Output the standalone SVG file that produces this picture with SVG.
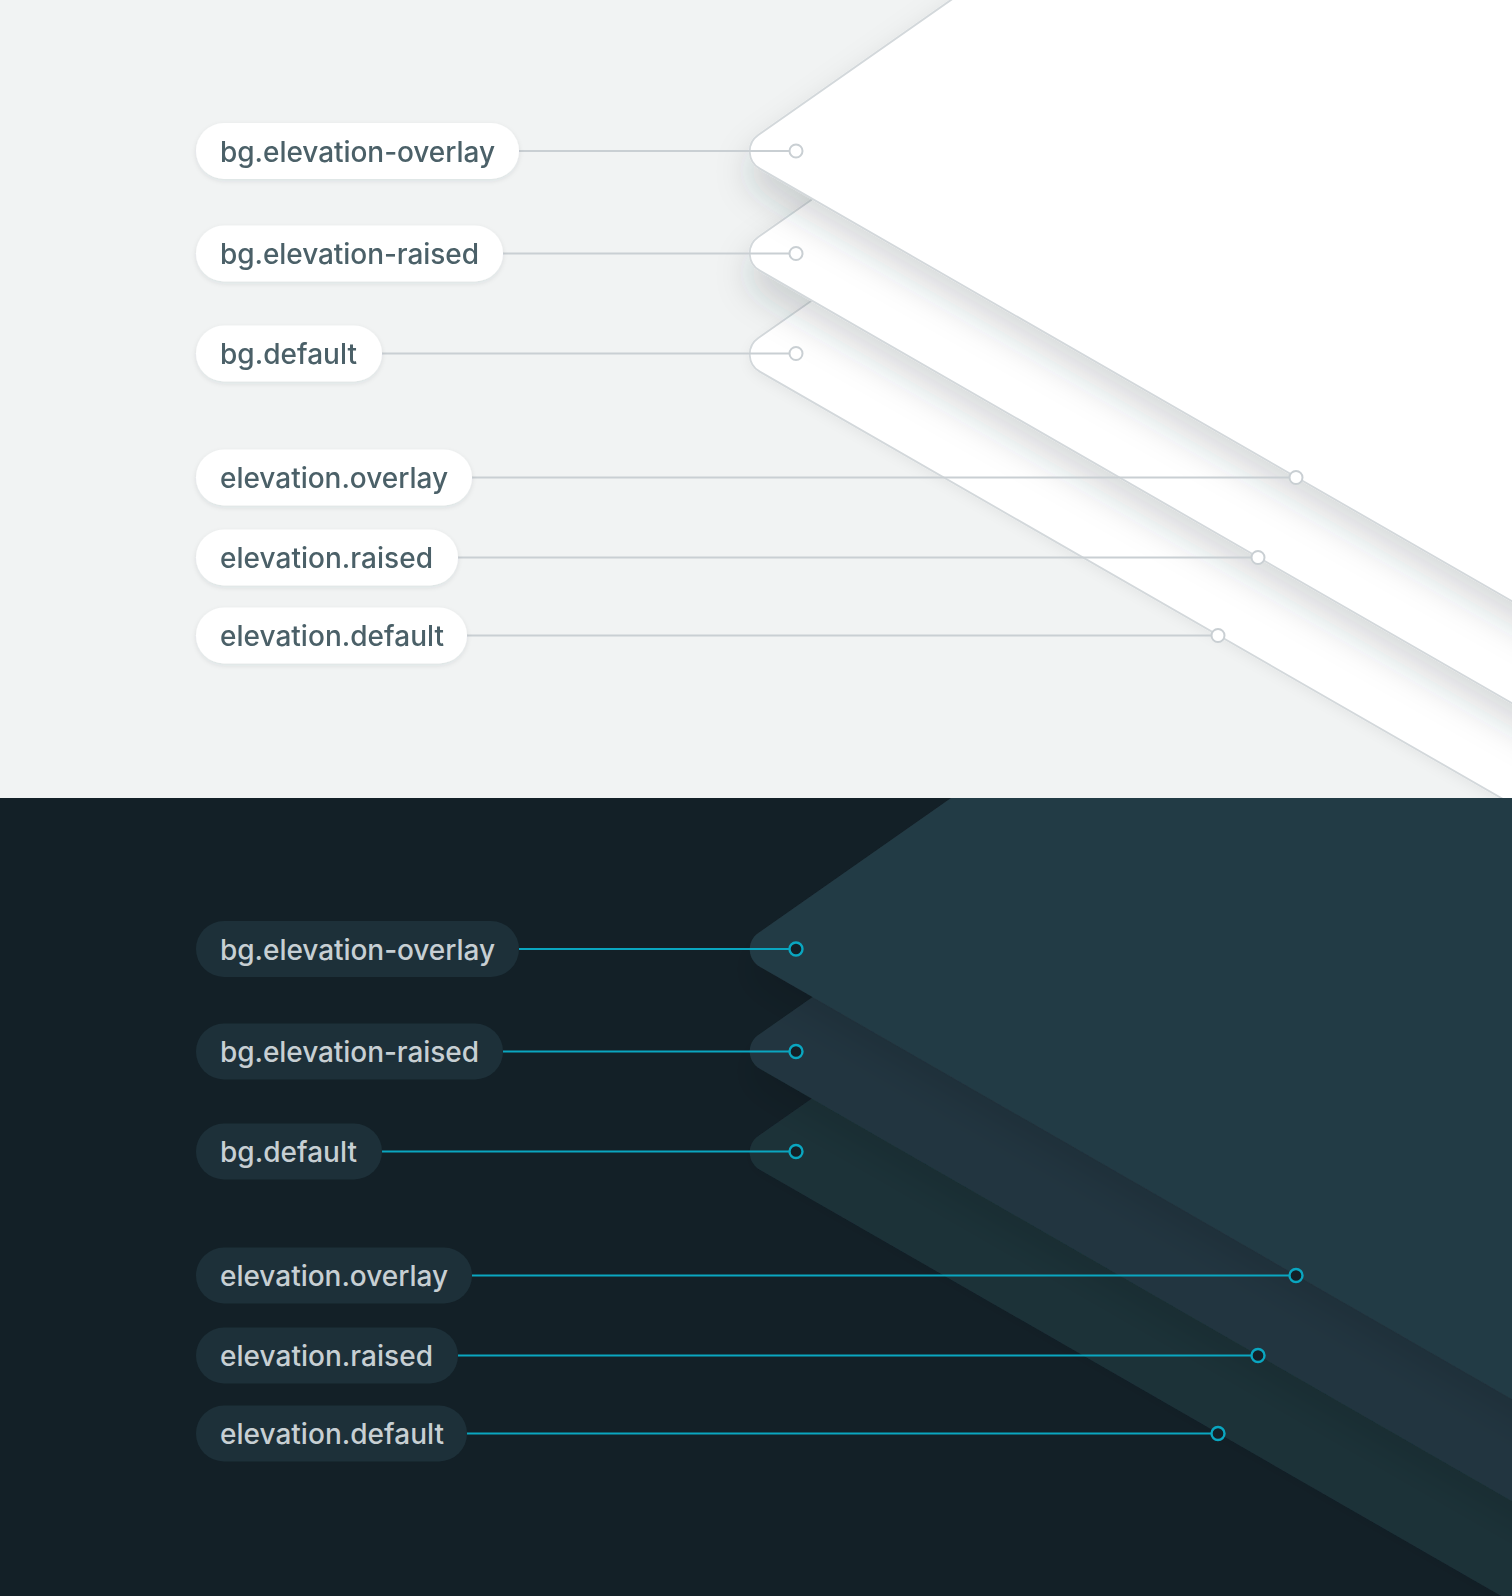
<svg xmlns="http://www.w3.org/2000/svg" xmlns:xlink="http://www.w3.org/1999/xlink" width="1512" height="1596" viewBox="0 0 1512 1596">
  <defs>
    <style>
      .lbl { font-family: Inter, "Liberation Sans", sans-serif; font-size: 28px; font-weight: 500; }
      .light .pill { fill: #ffffff; }
      .light .lbl { fill: #4b6168; }
      .dark .pill { fill: #1d3039; }
      .dark .lbl { fill: #c7cfd3; }
      .conn-l { stroke: #c9cfd3; stroke-width: 2; fill: none; }
      .conn-d { stroke: #0aa6c0; stroke-width: 2; fill: none; }
      .pl-l { fill: #ffffff; stroke: #d3d8db; stroke-width: 1.8; }
      .d0 { fill: #243a44; }
      .d1 { fill: #21363f; }
      .d2 { fill: #1d3139; }
    </style>
    <path id="plane" d="M 1600 651.8 L 759.8 168.65 A 20 20 0 0 1 758.3 134.9 L 1022.4 -50 L 1600 -50 Z"/>
    <clipPath id="clipTop"><rect x="0" y="0" width="1512" height="798"/></clipPath>
    <clipPath id="clipBot"><rect x="0" y="0" width="1512" height="798"/></clipPath>
    <filter id="shL" x="-10%" y="-15%" width="125%" height="135%">
      <feGaussianBlur in="SourceAlpha" stdDeviation="17"/>
      <feOffset dy="20" result="b"/>
      <feFlood flood-color="#2a3a40" flood-opacity="0.19"/>
      <feComposite in2="b" operator="in"/>
      <feMerge><feMergeNode/><feMergeNode in="SourceGraphic"/></feMerge>
    </filter>
    <filter id="shL2" x="-10%" y="-15%" width="125%" height="135%">
      <feGaussianBlur in="SourceAlpha" stdDeviation="6"/>
      <feOffset dy="4" result="b"/>
      <feFlood flood-color="#2a3a40" flood-opacity="0.05"/>
      <feComposite in2="b" operator="in"/>
      <feMerge><feMergeNode/><feMergeNode in="SourceGraphic"/></feMerge>
    </filter>
    <filter id="shD" x="-10%" y="-15%" width="125%" height="135%">
      <feGaussianBlur in="SourceAlpha" stdDeviation="16"/>
      <feOffset dy="20" result="b"/>
      <feFlood flood-color="#000000" flood-opacity="0.10"/>
      <feComposite in2="b" operator="in"/>
      <feMerge><feMergeNode/><feMergeNode in="SourceGraphic"/></feMerge>
    </filter>
    <filter id="shD2" x="-10%" y="-15%" width="125%" height="135%">
      <feGaussianBlur in="SourceAlpha" stdDeviation="6"/>
      <feOffset dy="4" result="b"/>
      <feFlood flood-color="#000000" flood-opacity="0.05"/>
      <feComposite in2="b" operator="in"/>
      <feMerge><feMergeNode/><feMergeNode in="SourceGraphic"/></feMerge>
    </filter>
    <filter id="pillSh" x="-10%" y="-30%" width="120%" height="170%">
      <feGaussianBlur in="SourceAlpha" stdDeviation="2.5"/>
      <feOffset dy="2" result="b"/>
      <feFlood flood-color="#2a3a40" flood-opacity="0.10"/>
      <feComposite in2="b" operator="in"/>
      <feMerge><feMergeNode/><feMergeNode in="SourceGraphic"/></feMerge>
    </filter>
    <marker id="dotL" markerUnits="userSpaceOnUse" markerWidth="20" markerHeight="20" refX="10" refY="10" orient="auto">
      <circle cx="10" cy="10" r="6.5" fill="#ffffff" stroke="#c9cfd3" stroke-width="2"/>
    </marker>
    <marker id="dotD" markerUnits="userSpaceOnUse" markerWidth="20" markerHeight="20" refX="10" refY="10" orient="auto">
      <circle cx="10" cy="10" r="6.5" fill="#132027" stroke="#0aa6c0" stroke-width="2.4"/>
    </marker>
  </defs>

  <!-- LIGHT PANEL -->
  <g id="light-panel" class="light" clip-path="url(#clipTop)">
    <rect x="0" y="0" width="1512" height="798" fill="#f1f3f3"/>
    <g id="light-planes">
      <use xlink:href="#plane" href="#plane" y="203" class="pl-l" filter="url(#shL2)"/>
      <use xlink:href="#plane" href="#plane" y="102" class="pl-l" filter="url(#shL)"/>
      <use xlink:href="#plane" href="#plane" y="0" class="pl-l" filter="url(#shL)"/>
    </g>
    <g id="light-connectors">
      <line class="conn-l" x1="519" y1="151" x2="796" y2="151" marker-end="url(#dotL)"/>
      <line class="conn-l" x1="503" y1="253.5" x2="796" y2="253.5" marker-end="url(#dotL)"/>
      <line class="conn-l" x1="382" y1="353.5" x2="796" y2="353.5" marker-end="url(#dotL)"/>
      <line class="conn-l" x1="472" y1="477.5" x2="1296" y2="477.5" marker-end="url(#dotL)"/>
      <line class="conn-l" x1="458" y1="557.5" x2="1258" y2="557.5" marker-end="url(#dotL)"/>
      <line class="conn-l" x1="467" y1="635.5" x2="1218" y2="635.5" marker-end="url(#dotL)"/>
    </g>
    <g id="light-bg-elevation-overlay" filter="url(#pillSh)">
      <rect class="pill" x="196" y="123" width="323" height="56" rx="28"/>
      <text class="lbl" x="220" y="161.5" textLength="275" lengthAdjust="spacing">bg.elevation-overlay</text>
    </g>
    <g id="light-bg-elevation-raised" filter="url(#pillSh)">
      <rect class="pill" x="196" y="225.5" width="307" height="56" rx="28"/>
      <text class="lbl" x="220" y="264" textLength="259" lengthAdjust="spacing">bg.elevation-raised</text>
    </g>
    <g id="light-bg-default" filter="url(#pillSh)">
      <rect class="pill" x="196" y="325.5" width="186" height="56" rx="28"/>
      <text class="lbl" x="220" y="364" textLength="137" lengthAdjust="spacing">bg.default</text>
    </g>
    <g id="light-elevation-overlay" filter="url(#pillSh)">
      <rect class="pill" x="196" y="449.5" width="276" height="56" rx="28"/>
      <text class="lbl" x="220" y="488" textLength="228" lengthAdjust="spacing">elevation.overlay</text>
    </g>
    <g id="light-elevation-raised" filter="url(#pillSh)">
      <rect class="pill" x="196" y="529.5" width="262" height="56" rx="28"/>
      <text class="lbl" x="220" y="568" textLength="213" lengthAdjust="spacing">elevation.raised</text>
    </g>
    <g id="light-elevation-default" filter="url(#pillSh)">
      <rect class="pill" x="196" y="607.5" width="271" height="56" rx="28"/>
      <text class="lbl" x="220" y="646" textLength="224" lengthAdjust="spacing">elevation.default</text>
    </g>
  </g>

  <!-- DARK PANEL -->
  <g id="dark-panel" class="dark" transform="translate(0,798)">
    <g clip-path="url(#clipBot)">
      <rect x="0" y="0" width="1512" height="798" fill="#132027"/>
      <g id="dark-planes">
        <use xlink:href="#plane" href="#plane" y="203" class="d2" filter="url(#shD2)"/>
        <use xlink:href="#plane" href="#plane" y="102" class="d1" filter="url(#shD)"/>
        <use xlink:href="#plane" href="#plane" y="0" class="d0" filter="url(#shD)"/>
      </g>
      <g id="dark-connectors">
        <line class="conn-d" x1="519" y1="151" x2="796" y2="151" marker-end="url(#dotD)"/>
        <line class="conn-d" x1="503" y1="253.5" x2="796" y2="253.5" marker-end="url(#dotD)"/>
        <line class="conn-d" x1="382" y1="353.5" x2="796" y2="353.5" marker-end="url(#dotD)"/>
        <line class="conn-d" x1="472" y1="477.5" x2="1296" y2="477.5" marker-end="url(#dotD)"/>
        <line class="conn-d" x1="458" y1="557.5" x2="1258" y2="557.5" marker-end="url(#dotD)"/>
        <line class="conn-d" x1="467" y1="635.5" x2="1218" y2="635.5" marker-end="url(#dotD)"/>
      </g>
      <g id="dark-bg-elevation-overlay">
        <rect class="pill" x="196" y="123" width="323" height="56" rx="28"/>
        <text class="lbl" x="220" y="161.5" textLength="275" lengthAdjust="spacing">bg.elevation-overlay</text>
      </g>
      <g id="dark-bg-elevation-raised">
        <rect class="pill" x="196" y="225.5" width="307" height="56" rx="28"/>
        <text class="lbl" x="220" y="264" textLength="259" lengthAdjust="spacing">bg.elevation-raised</text>
      </g>
      <g id="dark-bg-default">
        <rect class="pill" x="196" y="325.5" width="186" height="56" rx="28"/>
        <text class="lbl" x="220" y="364" textLength="137" lengthAdjust="spacing">bg.default</text>
      </g>
      <g id="dark-elevation-overlay">
        <rect class="pill" x="196" y="449.5" width="276" height="56" rx="28"/>
        <text class="lbl" x="220" y="488" textLength="228" lengthAdjust="spacing">elevation.overlay</text>
      </g>
      <g id="dark-elevation-raised">
        <rect class="pill" x="196" y="529.5" width="262" height="56" rx="28"/>
        <text class="lbl" x="220" y="568" textLength="213" lengthAdjust="spacing">elevation.raised</text>
      </g>
      <g id="dark-elevation-default">
        <rect class="pill" x="196" y="607.5" width="271" height="56" rx="28"/>
        <text class="lbl" x="220" y="646" textLength="224" lengthAdjust="spacing">elevation.default</text>
      </g>
    </g>
  </g>
</svg>
